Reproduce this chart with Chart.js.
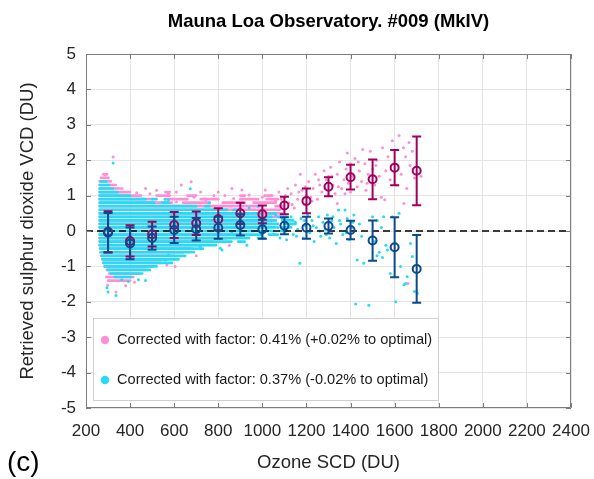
<!DOCTYPE html>
<html>
<head>
<meta charset="utf-8">
<script src="https://cdn.jsdelivr.net/npm/chart.js@4.4.1/dist/chart.umd.min.js"></script>
<style>
  html, body { margin: 0; padding: 0; background: #fff; }
  #wrap { position: relative; width: 594px; height: 479px; }
</style>
</head>
<body>
<div id="wrap"><canvas id="myChart"></canvas></div>
<script>
// tick labels
var xTicks = [200, 400, 600, 800, 1000, 1200, 1400, 1600, 1800, 2000, 2200, 2400];
var yTicks = [-5, -4, -3, -2, -1, 0, 1, 2, 3, 4, 5];

// binned means (ozone SCD, DU) with error bars
var binX = [300, 400, 500, 600, 700, 800, 900, 1000, 1100, 1200, 1300, 1400, 1500, 1600, 1700];
var pinkMean = [-0.02, -0.28, -0.09, 0.17, 0.22, 0.33, 0.50, 0.47, 0.72, 0.85, 1.25, 1.52, 1.46, 1.79, 1.70];
var pinkErr = [0.58, 0.44, 0.35, 0.37, 0.33, 0.31, 0.30, 0.25, 0.25, 0.35, 0.27, 0.35, 0.56, 0.50, 0.97];
var blueMean = [-0.05, -0.35, -0.20, 0.03, 0.05, 0.09, 0.17, 0.05, 0.15, 0.09, 0.14, 0.03, -0.27, -0.46, -1.07];
var blueErr = [0.56, 0.45, 0.33, 0.37, 0.32, 0.31, 0.30, 0.27, 0.24, 0.31, 0.21, 0.26, 0.57, 0.85, 0.96];

// dense part of the clouds: retrieved values are quantised, so they pile up in rows
var cyanRowY    = [1.4, 1.3, 1.2, 1.1, 1.0, 0.9, 0.9, 0.8, 0.8, 0.7, 0.7, 0.6, 0.6, 0.5, 0.5, 0.4, 0.4, 0.3, 0.3, 0.2, 0.2, 0.1, 0.1, 0.0, 0.0, -0.1, -0.1, -0.2, -0.2, -0.3, -0.3, -0.4, -0.5, -0.6, -0.7, -0.8, -0.9, -1.0, -1.1, -1.2, -1.3];
var cyanRowFrom = [268, 262, 262, 262, 262, 262, 500, 262, 545, 262, 740, 262, 870, 262, 1030, 262, 1070, 262, 1090, 262, 1100, 262, 1090, 262, 1080, 262, 1030, 262, 980, 262, 890, 262, 264, 266, 270, 274, 278, 285, 298, 312, 330];
var cyanRowTo   = [292, 305, 322, 345, 400, 470, 520, 510, 575, 700, 760, 840, 900, 1000, 1060, 1040, 1110, 1060, 1140, 1070, 1150, 1060, 1130, 1050, 1110, 1000, 1070, 940, 1010, 860, 920, 790, 730, 690, 650, 620, 590, 520, 490, 455, 405];

var pinkRowY    = [1.6, 1.5, 1.4, 1.3, 1.2, 1.1, 1.1, 1.0, 1.0, 1.0, 1.0, 1.0, 0.9, 0.9, 0.9, 0.9, 0.9, 0.8, 0.8, 0.8, 0.8, 0.7, 0.7, 0.6, 0.5, 0.4, 0.3, 0.2, 0.1, 0.0, -0.1, -0.2, -0.3, -0.4, -0.5, -0.6, -0.7, -0.8, -0.9, -1.0, -1.1, -1.2, -1.3, -1.4];
var pinkRowFrom = [278, 268, 262, 262, 262, 262, 560, 262, 520, 660, 900, 1010, 262, 560, 720, 900, 1020, 262, 640, 820, 960, 262, 1060, 262, 262, 262, 262, 262, 262, 262, 262, 262, 262, 262, 264, 266, 270, 274, 278, 285, 295, 305, 292, 300];
var pinkRowTo   = [296, 302, 312, 335, 365, 400, 580, 450, 580, 700, 920, 1045, 500, 660, 800, 980, 1070, 590, 760, 920, 1060, 1000, 1085, 1080, 1090, 1080, 1060, 1040, 1000, 960, 900, 840, 780, 720, 680, 640, 600, 570, 540, 500, 470, 440, 415, 400];

// scattered single retrievals
var pinkDotX = [323, 286, 632, 677, 574, 862, 907, 1013, 470, 520, 720, 800, 298, 336, 380, 420, 567, 604, 700, 850,
  610, 690, 745, 780, 870, 940, 1000, 490, 430, 610, 830,
  1040, 1060, 1075, 1090, 1100, 1115, 1120, 1130, 1145, 1150, 1160, 1172, 1180, 1190, 1200, 1210, 1220, 1230, 1240, 1250,
  1260, 1270, 1280, 1290, 1300, 1300, 1310, 1320, 1330, 1340, 1340, 1350, 1360, 1370, 1380, 1385, 1390, 1400, 1400, 1410,
  1420, 1430, 1440, 1450, 1455, 1465, 1470, 1480, 1490, 1500, 1510, 1520, 1530, 1540, 1545, 1555, 1560, 1570, 1580, 1590,
  1600, 1610, 1620, 1630, 1640, 1642, 1650, 1655, 1660, 1665, 1670, 1680, 1690, 1720,
  1085, 1105, 1135, 1165, 1195, 1225, 1255, 1285, 1315, 1345, 1375, 1435, 1475, 1515];
var pinkDotY = [2.09, 1.58, 1.30, 1.39, 1.06, 1.20, 1.16, 1.16, 1.20, 1.15, 1.10, 1.10, -1.53, -1.72, -1.55, -1.45, -0.96, -1.00, -0.70, -0.40,
  0.82, 0.95, 0.88, 1.00, 0.92, 1.02, 0.95, 1.05, 1.08, 1.10, 1.00,
  1.00, 0.85, 1.10, 0.70, 0.95, 1.20, 0.80, 1.05, 0.65, 1.30, 0.90, 1.60, 1.15, 0.75, 1.00, 1.40, 0.95, 1.20, 1.60, 0.90,
  1.30, 1.10, 1.70, 1.45, 1.00, 1.55, 1.80, 1.30, 1.05, 0.78, 1.60, 1.95, 1.20, 1.45, 1.75, 2.20, 1.35, 1.10, 1.90, 1.55,
  2.05, 1.25, 1.70, 1.40, 2.30, 1.90, 1.15, 1.60, 2.25, 1.75, 1.30, 2.00, 1.55, 0.95, 2.35, 0.88, 1.70, 2.10, 1.45, 2.55,
  1.90, 1.30, 2.70, 1.60, 2.35, 0.78, 2.10, 1.20, -1.48, 2.50, 1.85, 2.25, 1.50, 1.55,
  0.90, 1.00, 0.75, 1.10, 1.25, 0.85, 1.45, 1.20, 1.55, 1.25, 1.05, 1.95, 1.35, 1.85];

var cyanDotX = [323, 295, 300, 336, 362, 392, 438, 470, 559, 574, 650, 718, 809, 817, 862, 930, 907, 559, 574, 673, 760, 940, 980,
  1040, 1050, 1060, 1070, 1080, 1090, 1100, 1110, 1120, 1130, 1140, 1150, 1160, 1170, 1175, 1185, 1195, 1205, 1215, 1225,
  1235, 1245, 1255, 1265, 1275, 1285, 1295, 1305, 1315, 1325, 1335, 1345, 1355, 1365, 1375, 1385, 1395, 1405, 1415, 1423,
  1430, 1440, 1460, 1483, 1500, 1510, 1520, 1521, 1530, 1540, 1545, 1550, 1560, 1567, 1580, 1590, 1605, 1620, 1627, 1642,
  1650, 1657, 1672, 1680, 1690, 1703,
  1155, 1190, 1230, 1260, 1290, 1320, 1350, 1380, 1410, 1450];
var cyanDotY = [1.92, -1.60, -1.72, -1.82, -1.38, -1.43, -1.38, -1.40, -0.82, -0.68, -0.49, -0.44, -0.49, -0.54, -0.02, -0.40, 0.31, 0.90, 0.88, 1.19, 0.80, 0.65, 0.70,
  0.30, -0.10, 0.45, 0.10, -0.20, 0.35, 0.00, -0.25, 0.20, 0.40, -0.10, 0.25, 0.05, -0.91, 0.35, -0.20, 0.15, 0.45, -0.05, 0.30,
  -0.30, 0.10, 0.40, -0.15, 0.25, 0.05, 0.45, -0.20, 0.30, 0.10, -0.35, 0.59, 0.20, -0.10, 0.59, 0.35, -0.25, 0.10, 0.45, -2.06,
  -0.82, 0.20, -0.91, -2.10, 0.40, -0.30, -0.70, 0.30, -0.60, 0.10, -0.75, 0.40, -0.40, -0.54, -1.20, 0.40, -2.00, 0.50, -1.00, -1.52,
  -1.48, -1.29, -0.35, -0.72, -1.71, -1.76,
  -0.15, 0.30, 0.15, 0.00, -0.10, 0.40, 0.30, -0.05, 0.25, -0.15];

var zeroLineX = [200, 2400];

var legendLabels = ['Corrected with factor: 0.41% (+0.02% to optimal)', 'Corrected with factor: 0.37% (-0.02% to optimal)'];

var PINK = '#ff8fd5', CYAN = '#24dcf8', MAGENTA = '#a1005f', NAVY = '#0b4a8c';
var FONT = '"Liberation Sans", Arial, Helvetica, sans-serif';

function rowPoints(ys, from, to) {
  var pts = [];
  for (var i = 0; i < ys.length; i++) {
    pts.push({x: from[i], y: ys[i]}, {x: to[i], y: ys[i]}, {x: to[i], y: null});
  }
  return pts;
}
function pairs(xs, ys) {
  return xs.map(function (x, i) { return {x: x, y: ys[i]}; });
}

// error bars drawn right before their circles
var errorBars = {
  id: 'errorBars',
  beforeDatasetDraw: function (chart, args) {
    var ds = chart.data.datasets[args.index];
    if (!ds.errorBars) return;
    var sx = chart.scales.x, sy = chart.scales.y, ctx = chart.ctx;
    ctx.save();
    ctx.strokeStyle = ds.borderColor;
    ctx.lineWidth = 2;
    ds.data.forEach(function (p, i) {
      var px = sx.getPixelForValue(p.x);
      var top = sy.getPixelForValue(p.y + ds.errorBars[i]);
      var bot = sy.getPixelForValue(p.y - ds.errorBars[i]);
      ctx.beginPath();
      ctx.moveTo(px, top); ctx.lineTo(px, bot);
      ctx.moveTo(px - 4.5, top); ctx.lineTo(px + 4.5, top);
      ctx.moveTo(px - 4.5, bot); ctx.lineTo(px + 4.5, bot);
      ctx.stroke();
    });
    ctx.restore();
  }
};

// box around the axes with inward ticks
var axesBox = {
  id: 'axesBox',
  afterDatasetsDraw: function (chart) {
    var ctx = chart.ctx, ca = chart.chartArea, sx = chart.scales.x, sy = chart.scales.y;
    ctx.save();
    ctx.strokeStyle = '#7d7d7d';
    ctx.lineWidth = 1;
    ctx.beginPath();
    ctx.rect(Math.round(ca.left) + 0.5, Math.round(ca.top) + 0.5, Math.round(ca.width) - 1, Math.round(ca.height) - 1);
    xTicks.forEach(function (v) {
      var px = Math.round(sx.getPixelForValue(v)) + 0.5;
      ctx.moveTo(px, ca.bottom); ctx.lineTo(px, ca.bottom - 5);
      ctx.moveTo(px, ca.top); ctx.lineTo(px, ca.top + 5);
    });
    yTicks.forEach(function (v) {
      var py = Math.round(sy.getPixelForValue(v)) + 0.5;
      ctx.moveTo(ca.left, py); ctx.lineTo(ca.left + 5, py);
      ctx.moveTo(ca.right, py); ctx.lineTo(ca.right - 5, py);
    });
    ctx.stroke();
    ctx.restore();
  }
};

// legend inside the axes + panel letter
var boxLegend = {
  id: 'boxLegend',
  afterDraw: function (chart) {
    var ctx = chart.ctx, ca = chart.chartArea;
    var bx = ca.left + 7, by = ca.bottom - 90, bw = 345, bh = 82;
    ctx.save();
    ctx.fillStyle = '#fff';
    ctx.fillRect(bx, by, bw, bh);
    ctx.strokeStyle = '#cfcfcf';
    ctx.lineWidth = 1;
    ctx.strokeRect(Math.round(bx) + 0.5, Math.round(by) + 0.5, bw, bh);
    var colors = [PINK, CYAN];
    ctx.font = '14.6px ' + FONT;
    ctx.textBaseline = 'middle';
    legendLabels.forEach(function (t, i) {
      var cy = by + 22 + i * 40;
      ctx.fillStyle = colors[i];
      ctx.beginPath();
      ctx.arc(bx + 12, cy, 4.2, 0, Math.PI * 2);
      ctx.fill();
      ctx.fillStyle = '#1a1a1a';
      ctx.fillText(t, bx + 24, cy);
    });
    ctx.font = '28px ' + FONT;
    ctx.fillStyle = '#000';
    ctx.textBaseline = 'middle';
    ctx.fillText('(c)', 7, 463);
    ctx.restore();
  }
};

var ctx = document.getElementById('myChart');
var myChart = new Chart(ctx, {
  type: 'scatter',
  data: {
    datasets: [
      {
        label: 'blue means', data: pairs(binX, blueMean), errorBars: blueErr, order: 0,
        borderColor: NAVY, backgroundColor: 'rgba(0,0,0,0)',
        pointRadius: 4, pointBorderWidth: 2, pointHoverRadius: 4
      },
      {
        label: 'pink means', data: pairs(binX, pinkMean), errorBars: pinkErr, order: 1,
        borderColor: MAGENTA, backgroundColor: 'rgba(0,0,0,0)',
        pointRadius: 4, pointBorderWidth: 2, pointHoverRadius: 4
      },
      {
        label: 'zero', type: 'line', order: 2,
        data: zeroLineX.map(function (x) { return {x: x, y: 0}; }),
        borderColor: '#000', borderWidth: 1.6, borderDash: [7, 4], pointRadius: 0, fill: false
      },
      {
        label: 'cyan dots', data: pairs(cyanDotX, cyanDotY), order: 3,
        backgroundColor: CYAN, borderWidth: 0, pointRadius: 1.5
      },
      {
        label: 'cyan rows', type: 'line', order: 4, data: rowPoints(cyanRowY, cyanRowFrom, cyanRowTo),
        borderColor: CYAN, borderWidth: 2.7, borderCapStyle: 'round', pointRadius: 0, spanGaps: false, fill: false
      },
      {
        label: 'pink dots', data: pairs(pinkDotX, pinkDotY), order: 5,
        backgroundColor: PINK, borderWidth: 0, pointRadius: 1.5
      },
      {
        label: 'pink rows', type: 'line', order: 6, data: rowPoints(pinkRowY, pinkRowFrom, pinkRowTo),
        borderColor: PINK, borderWidth: 2.7, borderCapStyle: 'round', pointRadius: 0, spanGaps: false, fill: false
      }
    ]
  },
  options: {
    responsive: true,
    maintainAspectRatio: false,
    animation: false,
    events: [],
    layout: { padding: { left: 0, right: 23, top: 0, bottom: 0 } },
    plugins: {
      legend: { display: false },
      tooltip: { enabled: false },
      title: {
        display: true,
        fullSize: false,
        text: 'Mauna Loa Observatory. #009 (MkIV)',
        color: '#000',
        font: { family: FONT, size: 18.5, weight: 'bold' },
        padding: { top: 11, bottom: 20.8 }
      }
    },
    scales: {
      x: {
        type: 'linear', min: 200, max: 2400,
        afterBuildTicks: function (s) { s.ticks = xTicks.map(function (v) { return {value: v}; }); },
        afterFit: function (s) { s.height = 71; s.paddingLeft = 0; s.paddingRight = 0; },
        grid: { color: '#e4e4e4', drawTicks: false },
        border: { display: false },
        ticks: {
          color: '#262626', font: { family: FONT, size: 17 }, padding: 13, maxRotation: 0, autoSkip: false,
          callback: function (v) { return String(v); }
        },
        title: { display: true, text: 'Ozone SCD (DU)', color: '#262626', font: { family: FONT, size: 18.5 }, padding: { top: 0, bottom: 5 } }
      },
      y: {
        type: 'linear', min: -5, max: 5,
        afterBuildTicks: function (s) { s.ticks = yTicks.map(function (v) { return {value: v}; }); },
        afterFit: function (s) { s.width = 86; },
        grid: { color: '#e4e4e4', drawTicks: false },
        border: { display: false },
        ticks: { color: '#262626', font: { family: FONT, size: 17 }, padding: 10 },
        title: { display: true, text: 'Retrieved sulphur dioxide VCD (DU)', color: '#262626', font: { family: FONT, size: 18.5 }, padding: { top: 17, bottom: 0 } }
      }
    }
  },
  plugins: [errorBars, axesBox, boxLegend]
});
</script>
</body>
</html>
